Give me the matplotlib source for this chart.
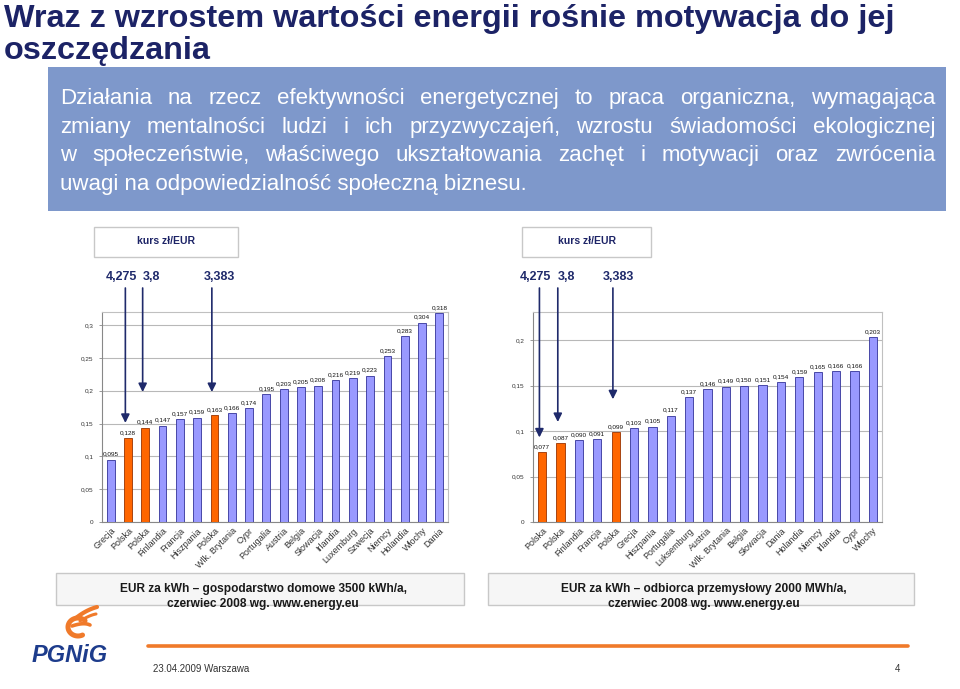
import matplotlib
matplotlib.use("Agg")
import matplotlib.pyplot as plt
import numpy as np
from matplotlib import font_manager
from matplotlib.patches import Rectangle

# data
left_countries = ["Grecja", "Polska", "Polska", "Finlandia", "Francja", "Hiszpania", "Polska",
                  "Wlk. Brytania", "Cypr", "Portugalia", "Austria", "Belgia", "Słowacja",
                  "Irlandia", "Luxemburg", "Szwecja", "Niemcy", "Holandia", "Włochy", "Dania"]
left_values = [0.095, 0.128, 0.144, 0.147, 0.157, 0.159, 0.163, 0.166, 0.174, 0.195,
               0.203, 0.205, 0.208, 0.216, 0.219, 0.223, 0.253, 0.283, 0.304, 0.318]
left_poland = [1, 2, 6]

right_countries = ["Polska", "Polska", "Finlandia", "Francja", "Polska", "Grecja", "Hiszpania",
                   "Portugalia", "Luksemburg", "Austria", "Wlk. Brytania", "Belgia", "Słowacja",
                   "Dania", "Holandia", "Niemcy", "Irlandia", "Cypr", "Włochy"]
right_values = [0.077, 0.087, 0.090, 0.091, 0.099, 0.103, 0.105, 0.117, 0.137, 0.146,
                0.149, 0.150, 0.151, 0.154, 0.159, 0.165, 0.166, 0.166, 0.203]
right_poland = [0, 1, 4]

rates = ["4,275", "3,8", "3,383"]

title_lines = ["Wraz z wzrostem wartości energii rośnie motywacja do jej", "oszczędzania"]
box_lines = ["Działania na rzecz efektywności energetycznej to praca organiczna, wymagająca",
             "zmiany mentalności ludzi i ich przyzwyczajeń, wzrostu świadomości ekologicznej",
             "w społeczeństwie, właściwego ukształtowania zachęt i motywacji oraz zwrócenia",
             "uwagi na odpowiedzialność społeczną biznesu."]
left_caption = ["EUR za kWh – gospodarstwo domowe 3500 kWh/a,", "czerwiec 2008 wg. www.energy.eu"]
right_caption = ["EUR za kWh – odbiorca przemysłowy 2000 MWh/a,", "czerwiec 2008 wg. www.energy.eu"]

names = {f.name for f in font_manager.fontManager.ttflist}
narrow = "Liberation Sans Narrow" if "Liberation Sans Narrow" in names else "Liberation Sans"
plt.rcParams["font.family"] = ["Liberation Sans", "DejaVu Sans"]

navy = "#1c2366"
orange = "#f07a2a"
W, H = 960, 689
fig = plt.figure(figsize=(9.6, 6.89), dpi=100)
fig.patch.set_facecolor("white")


def fmt(v):
    return ("%.3f" % v).replace(".", ",")


def bar_chart(rect, cats, vals, poland, ymax, yticks, ylabels):
    ax = fig.add_axes(rect)
    x = np.arange(len(vals))
    colors = ["#ff6600" if i in poland else "#9999ff" for i in x]
    edges = ["#993300" if i in poland else "#333399" for i in x]
    ax.bar(x, vals, width=0.45, color=colors, edgecolor=edges, linewidth=0.6, zorder=3)
    for i, v in enumerate(vals):
        ax.text(i, v + ymax * 0.014, fmt(v), ha="center", va="bottom", fontsize=4.6,
                color="#111111", zorder=4)
    ax.set_xlim(-0.5, len(vals) - 0.5)
    ax.set_ylim(0, ymax)
    ax.set_yticks(yticks)
    ax.set_yticklabels(ylabels, fontsize=4.6, color="#333333")
    ax.yaxis.grid(True, color="#b8b8b8", linewidth=0.8, zorder=0)
    ax.set_xticks(x)
    ax.set_xticklabels(cats, rotation=45, ha="right", rotation_mode="anchor",
                       fontsize=6.5, color="#333333")
    ax.tick_params(axis="x", length=0, pad=3)
    ax.tick_params(axis="y", length=2, width=0.6, color="#888888", pad=4)
    for s in ax.spines.values():
        s.set_color("#c0c0c0")
        s.set_linewidth(0.8)
    ax.spines["left"].set_color("#888888")
    ax.spines["bottom"].set_color("#888888")
    return ax


def px(x0, y0, x1, y1):
    return [x0 / W, 1 - y1 / H, (x1 - x0) / W, (y1 - y0) / H]


axl = bar_chart(px(102, 312, 448, 522), left_countries, left_values, left_poland, 0.32,
                [0, 0.05, 0.1, 0.15, 0.2, 0.25, 0.3],
                ["0", "0,05", "0,1", "0,15", "0,2", "0,25", "0,3"])
axr = bar_chart(px(533, 312, 882, 522), right_countries, right_values, right_poland, 0.231,
                [0, 0.05, 0.1, 0.15, 0.2], ["0", "0,05", "0,1", "0,15", "0,2"])

# arrows from exchange rates to the Polish bars
arrow_top = 1 - 288 / H
for ax, idx, tips in [(axl, left_poland, [0.151, 0.198, 0.198]),
                      (axr, right_poland, [0.093, 0.110, 0.135])]:
    for i, tip in zip(idx, tips):
        ax.annotate("", xy=(i - 0.15, tip), xytext=(i - 0.15, arrow_top),
                    textcoords=("data", "figure fraction"), annotation_clip=False,
                    arrowprops=dict(arrowstyle="-|>,head_length=0.5,head_width=0.25",
                                    color="#1f2a6b", lw=1.2, shrinkA=0, shrinkB=0))

# overlay in pixel coordinates
ov = fig.add_axes([0, 0, 1, 1], zorder=-1)
ov.set_xlim(0, W)
ov.set_ylim(H, 0)
ov.axis("off")

for i, line in enumerate(title_lines):
    ov.text(4, 19 + i * 32, line, fontsize=23.3, fontweight="bold", color=navy,
            family=[narrow, "DejaVu Sans"], va="center", ha="left")

ov.add_patch(Rectangle((48, 67), 898, 144, facecolor="#7e98cb", edgecolor="none"))
renderer = fig.canvas.get_renderer()
x0, x1 = 60, 935
box_fs = 16
for i, line in enumerate(box_lines):
    y = 104 + i * 28.7
    words = line.split(" ")
    if i == len(box_lines) - 1:
        ov.text(x0, y, line, fontsize=box_fs, color="white", family=[narrow, "DejaVu Sans"],
                va="baseline", ha="left")
        continue
    texts = [ov.text(0, y, w, fontsize=box_fs, color="white", family=[narrow, "DejaVu Sans"],
                     va="baseline", ha="left") for w in words]
    widths = [t.get_window_extent(renderer).width for t in texts]
    gap = (x1 - x0 - sum(widths)) / (len(words) - 1)
    xx = x0
    for t, w in zip(texts, widths):
        t.set_x(xx)
        xx += w + gap

# exchange-rate boxes
for bx0, bx1 in [(94, 238), (522, 651)]:
    ov.add_patch(Rectangle((bx0, 227), bx1 - bx0, 30, facecolor="white",
                           edgecolor="#c8c8c8", linewidth=1))
    ov.text((bx0 + bx1) / 2, 241, "kurs zł/EUR", fontsize=7.5, fontweight="bold",
            color=navy, ha="center", va="center")
for cx, lab in zip([121, 151, 219], rates):
    ov.text(cx, 277, lab, fontsize=9, fontweight="bold", color="#1f2a6b",
            ha="center", va="center")
for cx, lab in zip([535, 566, 618], rates):
    ov.text(cx, 277, lab, fontsize=9, fontweight="bold", color="#1f2a6b",
            ha="center", va="center")

# caption boxes
for (bx0, bx1), cap in [((56, 464), left_caption), ((488, 914), right_caption)]:
    ov.add_patch(Rectangle((bx0, 573), bx1 - bx0, 32, facecolor="#f6f6f6",
                           edgecolor="#c8c8c8", linewidth=1))
    for j, line in enumerate(cap):
        ov.text((bx0 + bx1) / 2 + 3, 589 + j * 15, line, fontsize=8.6, fontweight="bold",
                color="#1a1a1a", ha="center", va="center", family=[narrow, "DejaVu Sans"])

# footer
ov.plot([148, 908], [646, 646], color=orange, lw=2.6, solid_capstyle="round")
ov.text(153, 669, "23.04.2009 Warszawa", fontsize=7, color="#333333", va="center")
ov.text(900, 669, "4", fontsize=7, color="#333333", va="center", ha="right")
ov.text(32, 656, "PGNiG", fontsize=17, fontweight="bold", style="italic", color="#1d3c8c",
        va="center", ha="left")


# flame logo: C-shaped body with feathers sweeping up to the right
def bezier(p0, p1, p2, n=30):
    t = np.linspace(0, 1, n)[:, None]
    pts = (1 - t) ** 2 * np.array(p0) + 2 * (1 - t) * t * np.array(p1) + t ** 2 * np.array(p2)
    return pts[:, 0], pts[:, 1]


t = np.linspace(0.35 * np.pi, 1.75 * np.pi, 50)
ov.plot(78 + 10 * np.cos(t), 627 + 9 * np.sin(t), color=orange, lw=3.6,
        solid_capstyle="round")
for p0, p1, p2, lw in [((72, 626), (84, 622), (90, 625), 2.6),
                       ((76, 618), (86, 610), (97, 607), 3.0),
                       ((80, 621), (90, 615), (96, 614), 2.2)]:
    xs, ys = bezier(p0, p1, p2)
    ov.plot(xs, ys, color=orange, lw=lw, solid_capstyle="round")

fig.savefig("out.png", dpi=100, facecolor="white")
